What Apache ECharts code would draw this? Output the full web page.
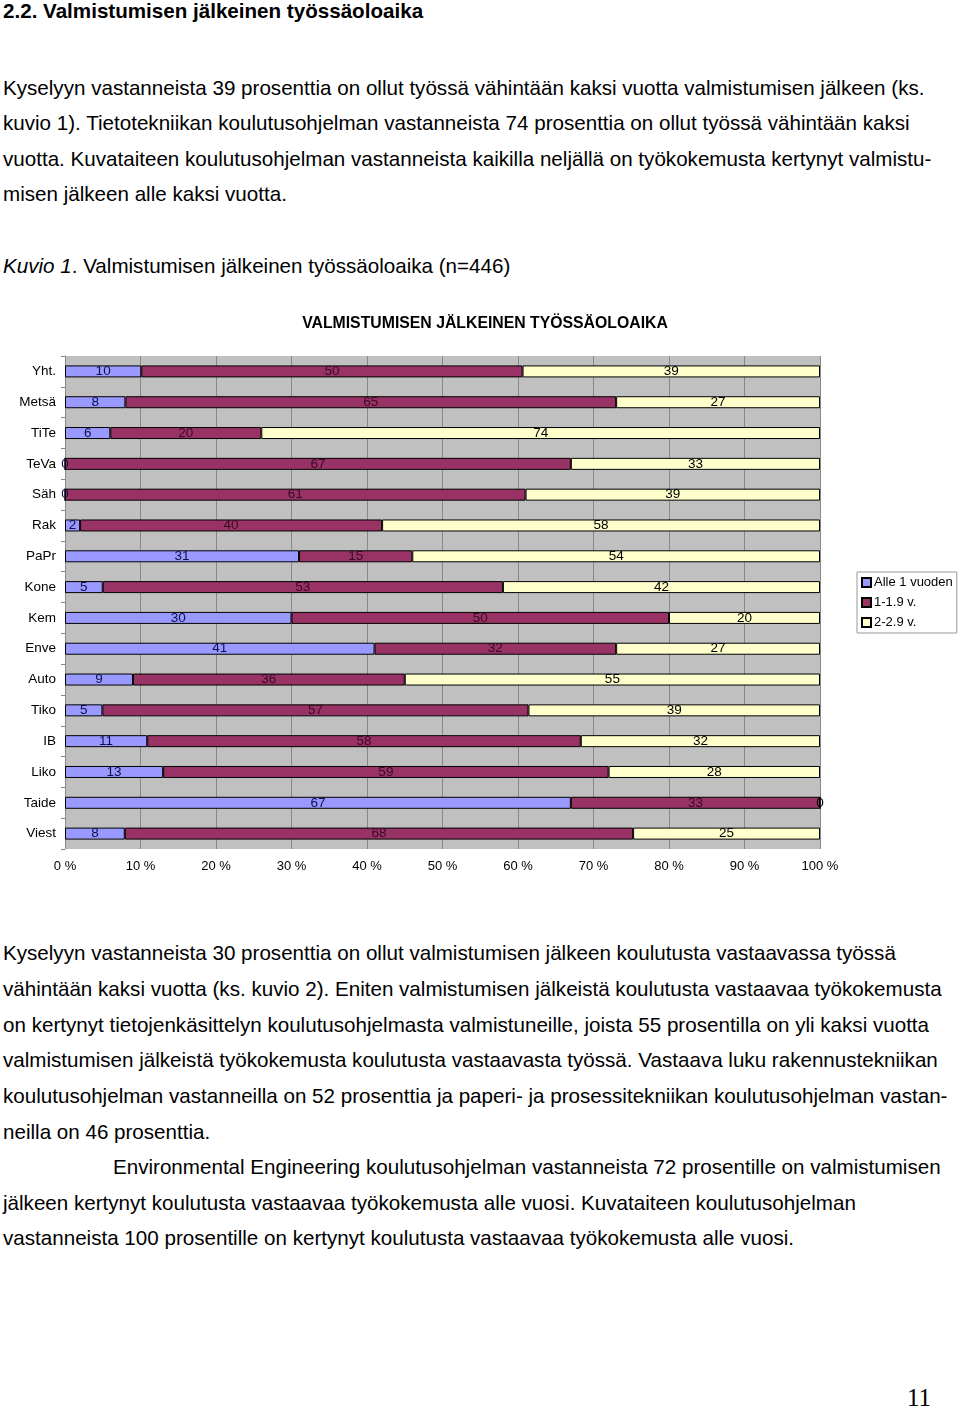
<!DOCTYPE html>
<html>
<head>
<meta charset="utf-8">
<script src="https://cdn.jsdelivr.net/npm/echarts@6/dist/echarts.min.js"></script>
<style>
  html, body { margin: 0; padding: 0; background: #fff; }
  body { width: 960px; height: 1408px; position: relative; overflow: hidden;
         font-family: 'Liberation Sans', Arial, sans-serif; color: #000; }
  .ln { position: absolute; left: 3px; white-space: nowrap; font-size: 20.6px; line-height: 24px; }
  .h { font-weight: bold; }
  #chart { position: absolute; left: 0; top: 300px; width: 960px; height: 600px; }
  .pg { position: absolute; left: 907px; top: 1384px; font-family: 'Liberation Serif', 'Times New Roman', serif; font-size: 25px; line-height: 28px; }
</style>
</head>
<body>
<div class="ln h" style="top:-1px">2.2. Valmistumisen jälkeinen työssäoloaika</div>
<div class="ln" style="top:76px">Kyselyyn vastanneista 39 prosenttia on ollut työssä vähintään kaksi vuotta valmistumisen jälkeen (ks.</div>
<div class="ln" style="top:111px">kuvio 1). Tietotekniikan koulutusohjelman vastanneista 74 prosenttia on ollut työssä vähintään kaksi</div>
<div class="ln" style="top:147px">vuotta. Kuvataiteen koulutusohjelman vastanneista kaikilla neljällä on työkokemusta kertynyt valmistu-</div>
<div class="ln" style="top:182px">misen jälkeen alle kaksi vuotta.</div>
<div class="ln" style="top:254px"><i>Kuvio 1</i>. Valmistumisen jälkeinen työssäoloaika (n=446)</div>

<div id="chart"></div>

<div class="ln" style="top:941px">Kyselyyn vastanneista 30 prosenttia on ollut valmistumisen jälkeen koulutusta vastaavassa työssä</div>
<div class="ln" style="top:977px">vähintään kaksi vuotta (ks. kuvio 2). Eniten valmistumisen jälkeistä koulutusta vastaavaa työkokemusta</div>
<div class="ln" style="top:1013px">on kertynyt tietojenkäsittelyn koulutusohjelmasta valmistuneille, joista 55 prosentilla on yli kaksi vuotta</div>
<div class="ln" style="top:1048px">valmistumisen jälkeistä työkokemusta koulutusta vastaavasta työssä. Vastaava luku rakennustekniikan</div>
<div class="ln" style="top:1084px">koulutusohjelman vastanneilla on 52 prosenttia ja paperi- ja prosessitekniikan koulutusohjelman vastan-</div>
<div class="ln" style="top:1120px">neilla on 46 prosenttia.</div>
<div class="ln" style="top:1155px; left:113px">Environmental Engineering koulutusohjelman vastanneista 72 prosentille on valmistumisen</div>
<div class="ln" style="top:1191px">jälkeen kertynyt koulutusta vastaavaa työkokemusta alle vuosi. Kuvataiteen koulutusohjelman</div>
<div class="ln" style="top:1226px">vastanneista 100 prosentille on kertynyt koulutusta vastaavaa työkokemusta alle vuosi.</div>

<div class="pg">11</div>

<script>
const categories = ['Yht.', 'Metsä', 'TiTe', 'TeVa', 'Säh', 'Rak', 'PaPr', 'Kone', 'Kem', 'Enve', 'Auto', 'Tiko', 'IB', 'Liko', 'Taide', 'Viest'];
const alle1 = [10, 8, 6, 0, 0, 2, 31, 5, 30, 41, 9, 5, 11, 13, 67, 8];
const v1to19 = [50, 65, 20, 67, 61, 40, 15, 53, 50, 32, 36, 57, 58, 59, 33, 68];
const v2to29 = [39, 27, 74, 33, 39, 58, 54, 42, 20, 27, 55, 39, 32, 28, 0, 25];
const seriesNames = ['Alle 1 vuoden', '1-1.9 v.', '2-2.9 v.'];
const seriesColors = ['#9999ff', '#993366', '#ffffcc'];
const labelColors = ['#10104a', '#3a0a22', '#000000'];
const chartTitle = 'VALMISTUMISEN JÄLKEINEN TYÖSSÄOLOAIKA';

const raw = [alle1, v1to19, v2to29];
const totals = categories.map((_, i) => raw.reduce((s, arr) => s + arr[i], 0));

const FONT = "'Liberation Sans', Arial, sans-serif";
const chart = echarts.init(document.getElementById('chart'), null, { renderer: 'canvas' });

chart.setOption({
  animation: false,
  textStyle: { fontFamily: FONT },
  title: {
    text: chartTitle,
    left: 480, top: 11, textAlign: 'center',
    textStyle: { fontSize: 15.8, fontWeight: 'bold', color: '#000', fontFamily: FONT }
  },
  legend: {
    orient: 'vertical',
    left: 857, top: 272,
    backgroundColor: '#fff',
    borderColor: '#999', borderWidth: 1, borderRadius: 0,
    padding: [4, 4, 4, 4],
    itemWidth: 9, itemHeight: 9, itemGap: 7,
    icon: 'rect',
    data: seriesNames,
    textStyle: { fontSize: 13, color: '#000', lineHeight: 13, padding: [0, 0, 0, -2], fontFamily: FONT }
  },
  grid: {
    left: 65, width: 755, top: 56, height: 493,
    show: true, backgroundColor: '#c0c0c0', borderWidth: 0
  },
  xAxis: {
    type: 'value', min: 0, max: 100, interval: 10,
    axisLine: { show: false },
    axisTick: { show: false },
    splitLine: { show: true, lineStyle: { color: '#888', width: 1 } },
    axisLabel: { formatter: '{value} %', fontSize: 13, color: '#000', margin: 11, fontFamily: FONT }
  },
  yAxis: {
    type: 'category', inverse: true, data: categories,
    axisLine: { show: true, lineStyle: { color: '#888' } },
    axisTick: { show: true, length: 4, lineStyle: { color: '#888' } },
    axisLabel: { fontSize: 13.5, color: '#000', margin: 9, fontFamily: FONT }
  },
  series: raw.map((arr, k) => ({
    name: seriesNames[k],
    type: 'bar',
    stack: 'total',
    barWidth: 12,
    itemStyle: { color: seriesColors[k], borderColor: '#000', borderWidth: 1 },
    label: {
      show: true, position: 'inside',
      fontSize: 13.5, color: labelColors[k], fontFamily: FONT,
      formatter: p => String(arr[p.dataIndex])
    },
    data: arr.map((v, i) => v / totals[i] * 100)
  }))
});
</script>
</body>
</html>
